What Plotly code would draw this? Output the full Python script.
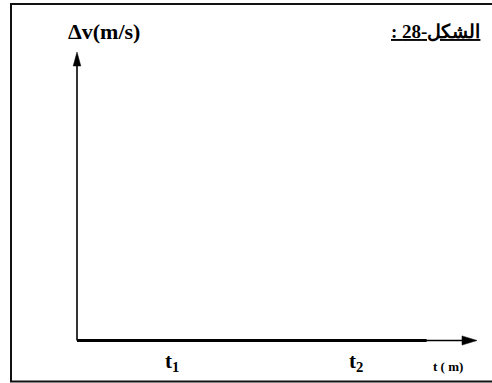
import plotly.graph_objects as go

# Figure size in pixels
W, H = 492, 383

# Time axis (arbitrary units) and the change in velocity along it
t_values = [0.0, 3.8]
dv_values = [0.0, 0.0]
tick_positions = [1.0, 3.0]
tick_labels = ["t<sub>1</sub>", "t<sub>2</sub>"]
y_title = "Δv(m/s)"
x_title = "t ( m)"
fig_caption = "\u202bالشكل-28 :\u202c"

# Axis ranges chosen so the origin sits at (77, 340.5) px
X_RANGE = [-77 / 92, (W - 77) / 92]
Y_RANGE = [-(H - 340.5), 340.5]

SERIF = "Liberation Serif"

fig = go.Figure()

# Heavy segment along the time axis
fig.add_trace(go.Scatter(
    x=t_values, y=dv_values, mode="lines",
    line=dict(color="black", width=3), hoverinfo="skip", showlegend=False,
))

shapes = []
# Outer frame
shapes.append(dict(type="rect", xref="paper", yref="paper",
                   x0=11 / W, x1=1.02, y0=1 - 381.5 / H, y1=1 - 4 / H,
                   line=dict(color="#111111", width=2), fillcolor="rgba(0,0,0,0)"))

# Vertical (Δv) axis with arrowhead
v_tip = 340.5 - 52
v_base = 340.5 - 66
shapes.append(dict(type="line", x0=0, x1=0, y0=0, y1=v_base,
                   line=dict(color="black", width=1.6)))
hw = 3.8 / 92
shapes.append(dict(type="path",
                   path=f"M {-hw} {v_base} L {hw} {v_base} L 0 {v_tip} Z",
                   fillcolor="black", line=dict(color="black", width=0.5)))

# Horizontal (t) axis with arrowhead
h_base = (462 - 77) / 92
h_tip = (477 - 77) / 92
shapes.append(dict(type="line", x0=0, x1=h_base, y0=0, y1=0,
                   line=dict(color="black", width=1.6)))
shapes.append(dict(type="path",
                   path=f"M {h_base} 4.6 L {h_base} -4.6 L {h_tip} 0 Z",
                   fillcolor="black", line=dict(color="black", width=0.5)))

annotations = []
# Tick labels below the time axis
for pos, lab in zip(tick_positions, tick_labels):
    annotations.append(dict(x=pos, y=-21, xref="x", yref="y", text=f"<b>{lab}</b>",
                            showarrow=False, xanchor="center", yanchor="middle",
                            xshift=3, font=dict(family=SERIF, size=21, color="black")))
# Axis titles
annotations.append(dict(x=448 / W, y=1 - 366 / H, xref="paper", yref="paper",
                        text=f"<b>{x_title}</b>", showarrow=False,
                        xanchor="center", yanchor="middle",
                        font=dict(family=SERIF, size=13, color="black")))
annotations.append(dict(x=104 / W, y=1 - 31.5 / H, xref="paper", yref="paper",
                        text=f"<b>{y_title}</b>", showarrow=False,
                        xanchor="center", yanchor="middle",
                        font=dict(family=SERIF, size=22, color="black")))
# Figure caption
annotations.append(dict(x=482 / W, y=1 - 31.5 / H, xref="paper", yref="paper",
                        text=f"<b><u>{fig_caption}</u></b>", showarrow=False,
                        xanchor="right", yanchor="middle",
                        font=dict(family=SERIF, size=19, color="black")))

fig.update_layout(
    width=W, height=H,
    margin=dict(l=0, r=0, t=0, b=0),
    paper_bgcolor="white", plot_bgcolor="white",
    font=dict(family=SERIF, color="black"),
    xaxis=dict(range=X_RANGE, visible=False, fixedrange=True),
    yaxis=dict(range=Y_RANGE, visible=False, fixedrange=True),
    shapes=shapes, annotations=annotations,
    showlegend=False,
)

fig.write_html("out.html")
